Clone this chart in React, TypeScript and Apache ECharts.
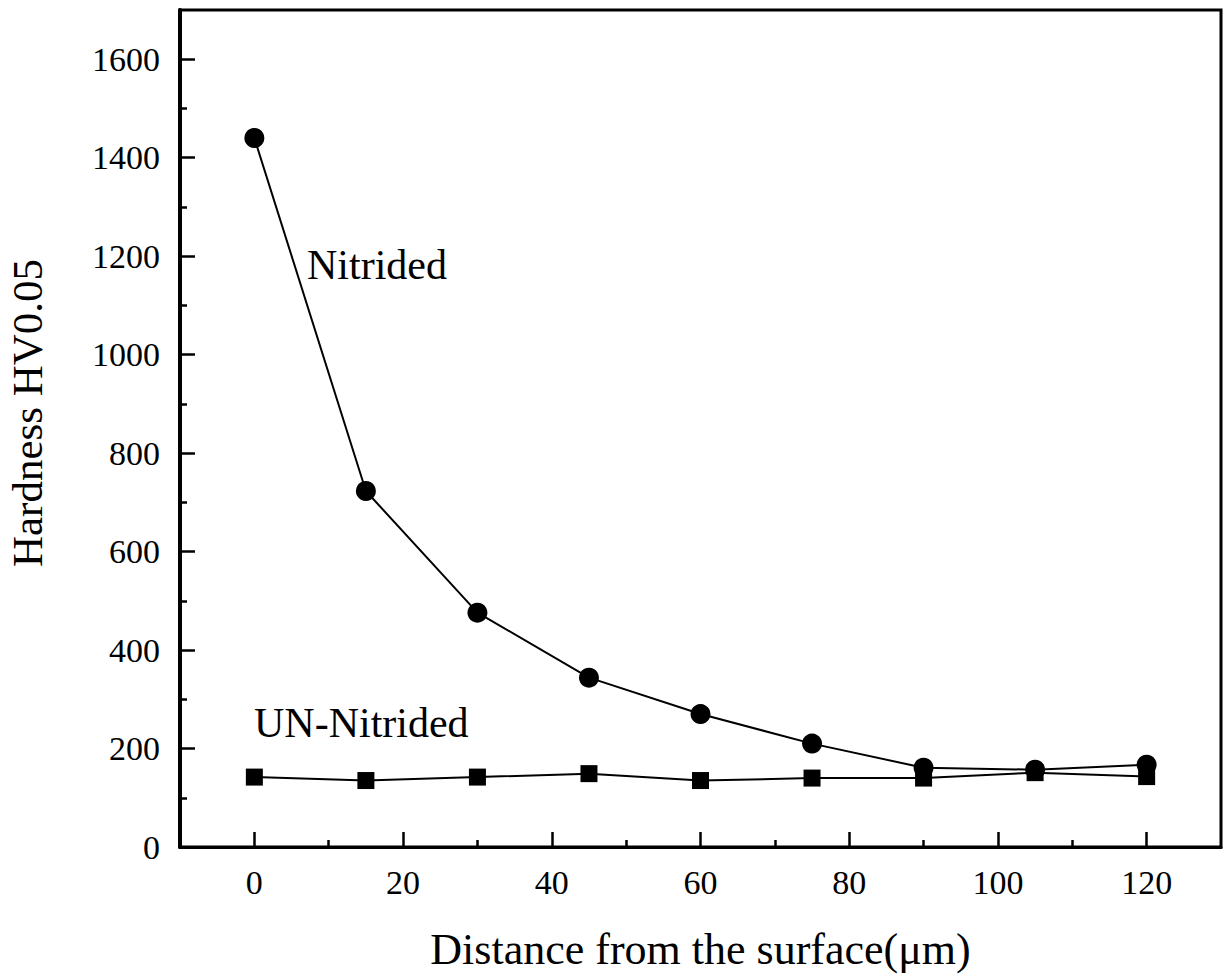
import React, { useEffect, useRef } from "react";
import * as echarts from "echarts";

const distances = [0, 15, 30, 45, 60, 75, 90, 105, 120];
const nitrided = [1440, 723, 476, 344, 270, 210, 161, 157, 167];
const unNitrided = [142, 135, 142, 149, 135, 140, 140, 151, 143];
const xMajorTicks = [0, 20, 40, 60, 80, 100, 120];
const xMinorTicks = [10, 30, 50, 70, 90, 110];
const yLabels = [0, 200, 400, 600, 800, 1000, 1200, 1400, 1600];
const yMajorTicks = [200, 400, 600, 800, 1000, 1200, 1400, 1600];
const yMinorTicks = [100, 300, 500, 700, 900, 1100, 1300, 1500];

const X_MIN = -10;
const X_MAX = 130;
const Y_MIN = 0;
const Y_MAX = 1700;

const FONT = "'Liberation Serif', 'Times New Roman', serif";

const tickAxis = (min: number, max: number, values: number[], length: number) => ({
  type: "value",
  min,
  max,
  axisLine: { show: false, onZero: false },
  axisTick: { show: true, inside: true, length, customValues: values, lineStyle: { color: "#000", width: 2.5 } },
  axisLabel: { show: false },
  splitLine: { show: false },
});

export default function App() {
  const ref = useRef<HTMLDivElement>(null);
  useEffect(() => {
    const chart = echarts.init(ref.current!, null, { renderer: "svg" });
    const pairs = (ys: number[]) => distances.map((d, i) => [d, ys[i]]);
    chart.setOption({
      animation: false,
      backgroundColor: "#ffffff",
      grid: {
        left: 180,
        right: 3,
        top: 10,
        bottom: 131,
        show: true,
        borderColor: "#000",
        borderWidth: 3,
        backgroundColor: "transparent",
      },
      xAxis: [
        {
          type: "value",
          min: X_MIN,
          max: X_MAX,
          position: "bottom",
          name: "Distance from the surface(μm)",
          nameLocation: "middle",
          nameGap: 80,
          nameTextStyle: { fontFamily: FONT, fontSize: 44, color: "#000" },
          axisLine: { show: true, onZero: false, lineStyle: { color: "#000", width: 3 } },
          axisTick: { show: false },
          axisLabel: {
            customValues: xMajorTicks,
            margin: 18,
            fontFamily: FONT,
            fontSize: 34,
            color: "#000",
            formatter: (v: number) => String(v),
          },
          splitLine: { show: false },
        },
        { ...tickAxis(X_MIN, X_MAX, xMajorTicks, 15), position: "bottom" },
        { ...tickAxis(X_MIN, X_MAX, xMinorTicks, 7), position: "bottom" },
      ],
      yAxis: [
        {
          type: "value",
          min: Y_MIN,
          max: Y_MAX,
          position: "left",
          axisLine: { show: true, onZero: false, lineStyle: { color: "#000", width: 4 } },
          axisTick: { show: false },
          axisLabel: {
            customValues: yLabels,
            margin: 20,
            fontFamily: FONT,
            fontSize: 34,
            color: "#000",
            formatter: (v: number) => String(v),
          },
          splitLine: { show: false },
        },
        { ...tickAxis(Y_MIN, Y_MAX, yMajorTicks, 15), position: "left" },
        { ...tickAxis(Y_MIN, Y_MAX, yMinorTicks, 7), position: "left" },
      ],
      series: [
        {
          name: "Nitrided",
          type: "line",
          xAxisIndex: 0,
          yAxisIndex: 0,
          data: pairs(nitrided),
          symbol: "circle",
          symbolSize: 20,
          itemStyle: { color: "#000" },
          lineStyle: { color: "#000", width: 2 },
        },
        {
          name: "UN-Nitrided",
          type: "line",
          xAxisIndex: 0,
          yAxisIndex: 0,
          data: pairs(unNitrided),
          symbol: "rect",
          symbolSize: 17,
          itemStyle: { color: "#000" },
          lineStyle: { color: "#000", width: 2 },
        },
      ],
      graphic: [
        {
          type: "text",
          x: 27,
          y: 413,
          rotation: Math.PI / 2,
          style: {
            text: "Hardness HV0.05",
            font: `43px ${FONT}`,
            fill: "#000",
            align: "center",
            verticalAlign: "middle",
          },
        },
        {
          type: "text",
          left: 307,
          top: 244,
          style: { text: "Nitrided", font: `42px ${FONT}`, fill: "#000" },
        },
        {
          type: "text",
          left: 254,
          top: 702,
          style: { text: "UN-Nitrided", font: `42px ${FONT}`, fill: "#000" },
        },
      ],
    });
    return () => chart.dispose();
  }, []);
  return (
    <div
      ref={ref}
      style={{ position: "fixed", left: 0, top: 0, width: 1224, height: 978, background: "#fff" }}
    />
  );
}
